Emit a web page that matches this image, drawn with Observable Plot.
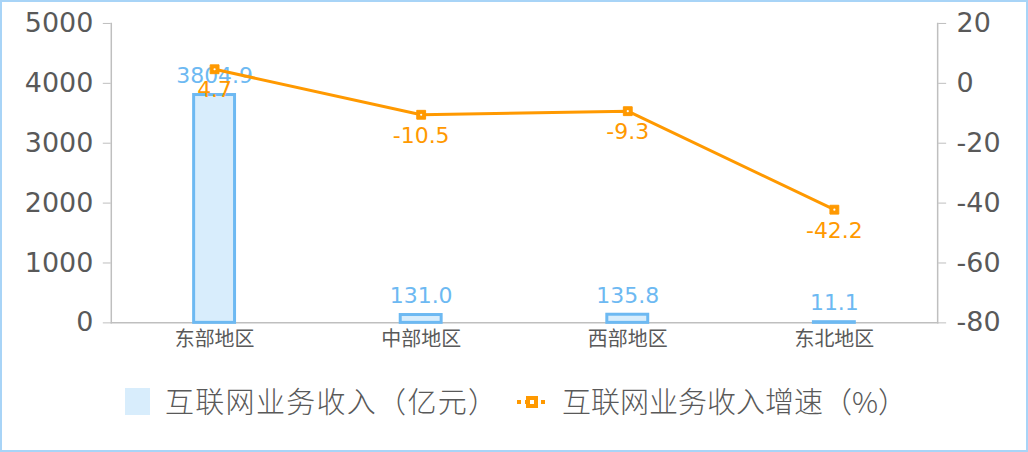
<!DOCTYPE html>
<html>
<head>
<meta charset="utf-8">
<script src="https://cdn.jsdelivr.net/npm/d3@7"></script>
<script src="https://cdn.jsdelivr.net/npm/@observablehq/plot@0.6"></script>
<style>
  html, body { margin: 0; padding: 0; background: #fff; }
  #wrap { position: relative; width: 1028px; height: 452px; box-sizing: border-box; border: 2px solid #a8d4f7; overflow: hidden; }
  #chart { position: absolute; left: -2px; top: -2px; }
  .lg { position: absolute; font-family: "Noto Sans CJK SC", sans-serif; font-weight: 300; font-size: 29px; color: #595959; line-height: 1; white-space: nowrap; }
</style>
</head>
<body>
<div id="wrap">
  <div id="chart"></div>
  <div id="legend"></div>
</div>
<script>
const regions = ["东部地区", "中部地区", "西部地区", "东北地区"];
const revenue = [3804.9, 131.0, 135.8, 11.1];
const growth = [4.7, -10.5, -9.3, -42.2];
const leftTicks = [0, 1000, 2000, 3000, 4000, 5000];
const rightTicks = [-80, -60, -40, -20, 0, 20];
const seriesNames = ["互联网业务收入（亿元）", "互联网业务收入增速（%）"];

const gMin = -80, gMax = 20, yMax = 5000;
const toY = g => (g - gMin) / (gMax - gMin) * yMax;

const rows = regions.map((r, i) => ({region: r, revenue: revenue[i], growth: growth[i], gy: toY(growth[i])}));

const blue = "#6db9f2", blueFill = "#d8edfc", orange = "#ff9900", gray = "#595959", axisGray = "#bfbfbf";

const chart = Plot.plot({
  width: 1028,
  height: 365,
  marginTop: 23,
  marginBottom: 42,
  marginLeft: 111,
  marginRight: 89,
  x: {domain: regions, paddingInner: 0.8, paddingOuter: 0.4, axis: null},
  y: {domain: [0, yMax], axis: null},
  marks: [
    Plot.axisX({tickSize: 0, tickPadding: 9, fontSize: 20, color: gray, fontFamily: "Noto Sans CJK SC", label: null, style: {letterSpacing: "0.5px"}}),
    Plot.axisY(leftTicks, {anchor: "left", tickSize: 8, tickPadding: 10, fontSize: 27, stroke: axisGray, fill: gray, fontFamily: "DejaVu Sans", label: null, tickFormat: d => String(d)}),
    Plot.axisY(rightTicks.map(toY), {anchor: "right", tickSize: 8, tickPadding: 11, fontSize: 27, stroke: axisGray, fill: gray, fontFamily: "DejaVu Sans", label: null, tickFormat: d => String(Math.round(d / yMax * (gMax - gMin) + gMin))}),
    Plot.frame({anchor: "left", stroke: axisGray, strokeWidth: 1.5}),
    Plot.frame({anchor: "right", stroke: axisGray, strokeWidth: 1.5}),
    Plot.frame({anchor: "bottom", stroke: axisGray, strokeWidth: 1.5}),
    Plot.barY(rows, {x: "region", y: "revenue", fill: blueFill, stroke: blue, strokeWidth: 3}),
    Plot.text(rows, {x: "region", y: "revenue", text: d => d.revenue.toFixed(1), dy: -19, fill: blue, fontSize: 22, fontFamily: "DejaVu Sans"}),
    Plot.line(rows, {x: "region", y: "gy", stroke: orange, strokeWidth: 3}),
    Plot.dot(rows, {x: "region", y: "gy", symbol: "square", r: 5, fill: orange, stroke: orange, strokeWidth: 1}),
    Plot.dot(rows, {x: "region", y: "gy", r: 1.1, fill: "#fff"}),
    Plot.text(rows, {x: "region", y: "gy", text: d => d.growth.toFixed(1), dy: 21, fill: orange, fontSize: 22, fontFamily: "DejaVu Sans", style: {letterSpacing: "1px"}})
  ]
});
document.getElementById("chart").appendChild(chart);

// legend
const lg = document.getElementById("legend");
lg.innerHTML = `
  <div style="position:absolute;left:123px;top:386px;width:25px;height:27px;background:${blueFill}"></div>
  <div class="lg" style="left:163px;top:384px;letter-spacing:1.3px">${seriesNames[0]}</div>
  <svg style="position:absolute;left:513px;top:387px" width="34" height="26">
    <line x1="2" y1="13" x2="32" y2="13" stroke="${orange}" stroke-width="4" stroke-dasharray="4,4"/>
    <rect x="11" y="7" width="12" height="12" fill="${orange}"/>
    <rect x="15" y="11" width="4" height="4" fill="#fff"/>
  </svg>
  <div class="lg" style="left:560px;top:384px">${seriesNames[1]}</div>
`;
</script>
</body>
</html>
